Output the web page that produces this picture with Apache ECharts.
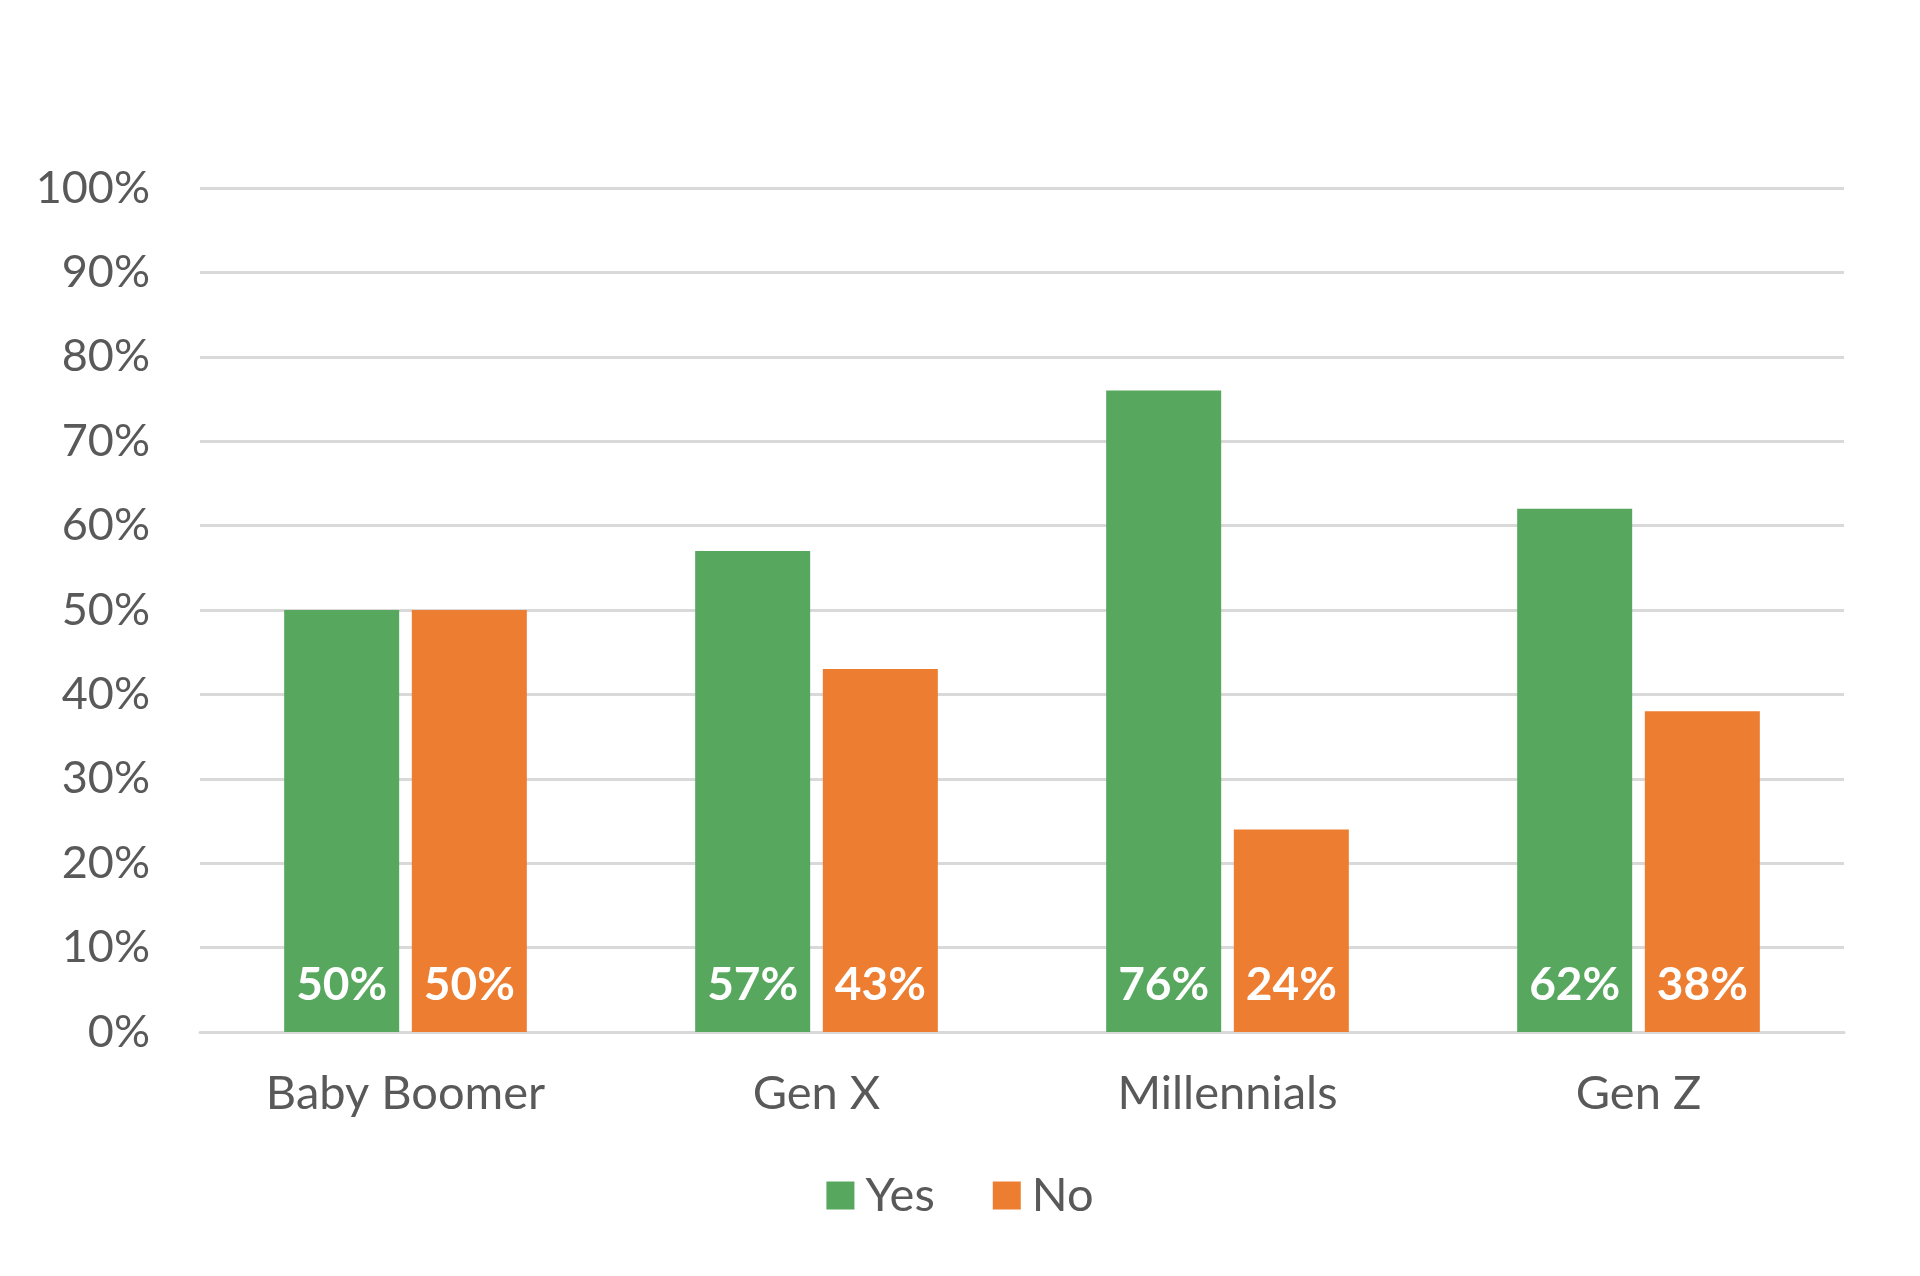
<!DOCTYPE html>
<html>
<head>
<meta charset="utf-8">
<script src="https://cdn.jsdelivr.net/npm/echarts@6/dist/echarts.min.js"></script>
<style>
html,body{margin:0;padding:0;background:#fff;}
#chart{width:1920px;height:1276px;}
</style>
</head>
<body>
<div id="chart"></div>
<script>
const categories = ['Baby Boomer', 'Gen X', 'Millennials', 'Gen Z'];
const yesValues = [50, 57, 76, 62];
const noValues = [50, 43, 24, 38];
const yTicks = [0, 10, 20, 30, 40, 50, 60, 70, 80, 90, 100];

const FONT = 'Lato';
const chart = echarts.init(document.getElementById('chart'));
const labelCfg = {
  show: true,
  position: 'insideBottom',
  distance: 24,
  color: '#ffffff',
  fontFamily: FONT,
  fontWeight: 'bold',
  fontSize: 46,
  formatter: p => p.value + '%'
};
chart.setOption({
  animation: false,
  backgroundColor: '#ffffff',
  grid: { left: 200, right: 76, top: 188, bottom: 244 },
  legend: {
    bottom: 52,
    left: 'center',
    itemWidth: 28,
    itemHeight: 28,
    itemGap: 58,
    icon: 'rect',
    textStyle: { fontFamily: FONT, fontSize: 47, color: '#595959', padding: [0, 0, 0, 6] },
    data: ['Yes', 'No']
  },
  xAxis: {
    type: 'category',
    data: categories,
    axisLine: { lineStyle: { color: '#D9D9D9', width: 3 } },
    axisTick: { show: false },
    axisLabel: { fontFamily: FONT, fontSize: 47, color: '#595959', margin: 38 }
  },
  yAxis: {
    type: 'value',
    min: yTicks[0],
    max: yTicks[yTicks.length - 1],
    interval: 10,
    axisLine: { show: false },
    axisTick: { show: false },
    splitLine: { lineStyle: { color: '#D9D9D9', width: 3 } },
    axisLabel: { fontFamily: FONT, fontSize: 45, color: '#595959', margin: 50, formatter: v => v + '%' }
  },
  series: [
    { name: 'Yes', type: 'bar', data: yesValues, barWidth: 115, barGap: '11%', itemStyle: { color: '#57A75E' }, label: labelCfg },
    { name: 'No', type: 'bar', data: noValues, barWidth: 115, barGap: '11%', itemStyle: { color: '#ED7D31' }, label: labelCfg }
  ]
});
</script>
</body>
</html>
